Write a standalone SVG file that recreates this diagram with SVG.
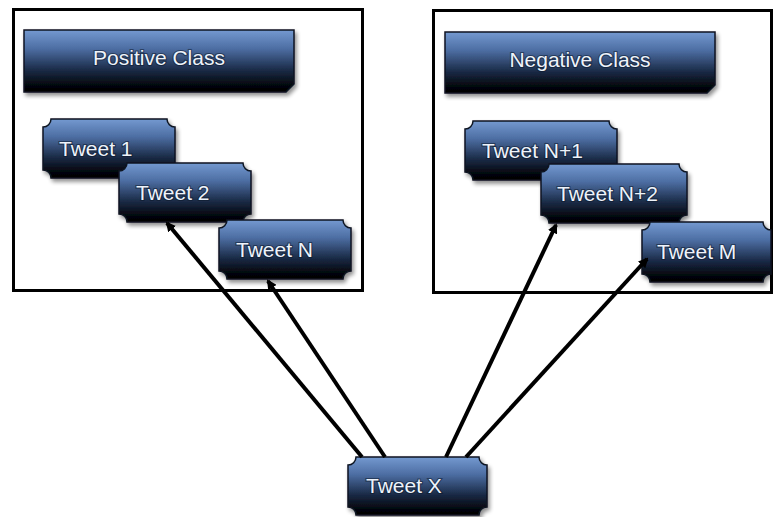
<svg xmlns="http://www.w3.org/2000/svg" width="773" height="517" viewBox="0 0 773 517">
  <defs>
    <linearGradient id="boxFill" x1="0" y1="0" x2="0" y2="1">
      <stop offset="0" stop-color="#7499d0"/>
      <stop offset="0.3" stop-color="#4d6ea3"/>
      <stop offset="0.65" stop-color="#1a2a46"/>
      <stop offset="0.9" stop-color="#03060b"/>
      <stop offset="1" stop-color="#000000"/>
    </linearGradient>
    <filter id="shadow" x="-10%" y="-15%" width="125%" height="145%">
      <feGaussianBlur in="SourceAlpha" stdDeviation="2"/>
      <feOffset dx="2" dy="3" result="blur"/>
      <feComponentTransfer><feFuncA type="linear" slope="0.45"/></feComponentTransfer>
      <feMerge><feMergeNode/><feMergeNode in="SourceGraphic"/></feMerge>
    </filter>
    <marker id="arrow" viewBox="0 0 10 10" refX="8" refY="5" markerWidth="10" markerHeight="10" markerUnits="userSpaceOnUse" orient="auto">
      <path d="M0,0 L10,5 L0,10 Z" fill="#000"/>
    </marker>
  </defs>
  <style>
    .frame { fill: #ffffff; stroke: #000000; stroke-width: 3; }
    .box { fill: url(#boxFill); stroke: #0d1422; stroke-width: 1.5; filter: url(#shadow); }
    .label { font-family: "Liberation Sans", Arial, sans-serif; font-size: 21px; fill: #eef3fa; stroke: #0a1628; stroke-width: 2.2; stroke-opacity: 0.5; paint-order: stroke; }
    .mid { text-anchor: middle; }
    .link { fill: none; stroke: #000000; stroke-width: 4; marker-end: url(#arrow); }
  </style>

  <rect width="773" height="517" fill="#ffffff"/>

  <!-- class frames -->
  <g id="positive-frame">
    <rect class="frame" x="13.5" y="9.5" width="349" height="281"/>
  </g>
  <g id="negative-frame">
    <rect class="frame" x="433.5" y="10.5" width="338" height="282"/>
  </g>

  <!-- class headers -->
  <g id="positive-class">
    <path class="box" d="M24,30 H294 V84 L286,92 H24 Z"/>
    <text class="label mid" x="159" y="65">Positive Class</text>
  </g>
  <g id="negative-class">
    <path class="box" d="M445,32 H715 V85 L707,93 H445 Z"/>
    <text class="label mid" x="580" y="67">Negative Class</text>
  </g>

  <!-- tweets of the positive class -->
  <g id="tweet-1">
    <path class="box" d="M51,119 H167 A8,8 0 0 0 175,127 V170 A8,8 0 0 0 167,178 H51 A8,8 0 0 0 43,170 V127 A8,8 0 0 0 51,119 Z"/>
    <text class="label" x="59" y="156">Tweet 1</text>
  </g>
  <g id="tweet-2">
    <path class="box" d="M127,163 H243 A8,8 0 0 0 251,171 V214 A8,8 0 0 0 243,222 H127 A8,8 0 0 0 119,214 V171 A8,8 0 0 0 127,163 Z"/>
    <text class="label" x="136" y="200">Tweet 2</text>
  </g>
  <g id="tweet-n">
    <path class="box" d="M227,220 H343 A8,8 0 0 0 351,228 V271 A8,8 0 0 0 343,279 H227 A8,8 0 0 0 219,271 V228 A8,8 0 0 0 227,220 Z"/>
    <text class="label" x="236" y="257">Tweet N</text>
  </g>

  <!-- tweets of the negative class -->
  <g id="tweet-n1">
    <path class="box" d="M473,121 H609 A8,8 0 0 0 617,129 V172 A8,8 0 0 0 609,180 H473 A8,8 0 0 0 465,172 V129 A8,8 0 0 0 473,121 Z"/>
    <text class="label" x="482" y="158">Tweet N+1</text>
  </g>
  <g id="tweet-n2">
    <path class="box" d="M549,164 H679 A8,8 0 0 0 687,172 V215 A8,8 0 0 0 679,223 H549 A8,8 0 0 0 541,215 V172 A8,8 0 0 0 549,164 Z"/>
    <text class="label" x="557" y="201">Tweet N+2</text>
  </g>
  <g id="tweet-m">
    <path class="box" d="M650,222 H763 A8,8 0 0 0 771,230 V274 A8,8 0 0 0 763,282 H650 A8,8 0 0 0 642,274 V230 A8,8 0 0 0 650,222 Z"/>
    <text class="label" x="657" y="259">Tweet M</text>
  </g>

  <!-- query tweet -->
  <g id="tweet-x">
    <path class="box" d="M356,457 H479 A8,8 0 0 0 487,465 V507 A8,8 0 0 0 479,515 H356 A8,8 0 0 0 348,507 V465 A8,8 0 0 0 356,457 Z"/>
    <text class="label" x="366" y="493">Tweet X</text>
  </g>

  <!-- connectors from Tweet X to the class members -->
  <g id="connectors">
    <line class="link" x1="362" y1="457" x2="167" y2="223"/>
    <line class="link" x1="385" y1="457" x2="268" y2="281"/>
    <line class="link" x1="446" y1="457" x2="556" y2="225"/>
    <line class="link" x1="466" y1="457" x2="647" y2="259"/>
  </g>
</svg>
